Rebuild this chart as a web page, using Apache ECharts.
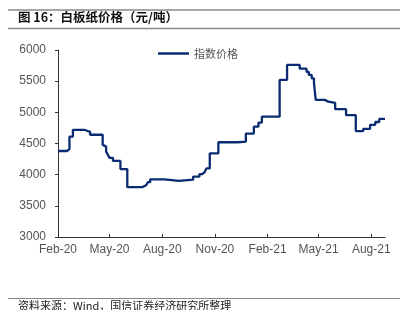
<!DOCTYPE html>
<html>
<head>
<meta charset="utf-8">
<script src="https://cdn.jsdelivr.net/npm/echarts@6/dist/echarts.min.js"></script>
<style>html,body{margin:0;padding:0;background:#fff}#c{width:405px;height:310px}</style>
</head>
<body>
<div id="c"></div>
<script>
// change-point dates and the index price that holds from each date on
const dates = [
  '2020-02-01','2020-02-17','2020-02-21','2020-02-27','2020-03-18','2020-03-24','2020-03-28',
  '2020-04-19','2020-04-22','2020-04-25','2020-04-28','2020-05-01','2020-05-07','2020-05-20',
  '2020-06-01','2020-06-27','2020-07-04','2020-07-07','2020-07-11','2020-08-05','2020-08-30',
  '2020-09-24','2020-10-05','2020-10-10','2020-10-14','2020-10-17','2020-10-23','2020-11-07',
  '2020-12-11','2020-12-25','2021-01-08','2021-01-16','2021-01-22','2021-02-22','2021-03-07',
  '2021-03-29','2021-04-10','2021-04-14','2021-04-19','2021-04-23','2021-04-26','2021-05-12',
  '2021-05-18','2021-05-30','2021-06-18','2021-07-05','2021-07-18','2021-07-30','2021-08-08',
  '2021-08-15','2021-08-25'
];
const prices = [
  4380,4410,4610,4720,4700,4690,4640,
  4480,4450,4370,4320,4270,4220,4090,
  3800,3830,3860,3880,3925,3900,3920,
  3970,4010,4040,4070,4100,4340,4520,
  4530,4660,4770,4835,4930,5520,5760,
  5700,5650,5600,5545,5470,5200,5170,
  5150,5050,4955,4700,4735,4800,4845,
  4895,4895
];
const seriesName = '指数价格';
const tickDates = ['2020-02-01','2020-05-01','2020-08-01','2020-11-01','2021-02-01','2021-05-01','2021-08-01'];
const yTicks = [3000,3500,4000,4500,5000,5500,6000];
const startDate = '2020-02-01', endDate = '2021-08-25';

const months = ['Jan','Feb','Mar','Apr','May','Jun','Jul','Aug','Sep','Oct','Nov','Dec'];
const DAY = 86400000;
const ts = s => { const p = s.split('-').map(Number); return Date.UTC(p[0], p[1]-1, p[2]); };
const dayOf = s => Math.round((ts(s) - ts(startDate)) / DAY);
const tickDays = tickDates.map(dayOf);
const data = dates.map((d,i)=>[dayOf(d), prices[i]]);
const fmt = v => { const d = new Date(ts(startDate) + v*DAY); return months[d.getUTCMonth()]+'-'+String(d.getUTCFullYear()).slice(2); };

const chart = echarts.init(document.getElementById('c'), null, {renderer:'canvas'});
chart.setOption({
  animation:false,
  grid:{left:58,right:20,top:50,bottom:73},
  title:{text:'图 16：白板纸价格（元/吨）',left:18,top:11,padding:0,
    textStyle:{fontSize:12.5,fontWeight:'bold',color:'#111',fontFamily:'"Noto Sans CJK SC", sans-serif'}},
  legend:{data:[{name:seriesName,icon:'rect'}],left:158,top:48,padding:0,itemWidth:31,itemHeight:2.5,itemGap:4,
    textStyle:{fontSize:11,color:'#555',fontFamily:'"Noto Sans CJK SC", serif'}},
  xAxis:{type:'value',min:0,max:dayOf(endDate),
    axisLine:{lineStyle:{color:'#333',width:1}},
    axisTick:{show:true,inside:true,length:3,customValues:tickDays,lineStyle:{color:'#333'}},
    axisLabel:{customValues:tickDays,color:'#555',fontSize:12,margin:7,fontFamily:'"Liberation Sans", Arial, sans-serif',
      hideOverlap:false,formatter:fmt},
    splitLine:{show:false}},
  yAxis:{type:'value',min:yTicks[0],max:yTicks[yTicks.length-1],interval:500,
    axisLine:{show:true,lineStyle:{color:'#333',width:1}},
    axisTick:{show:true,length:3,lineStyle:{color:'#333'}},
    axisLabel:{color:'#555',fontSize:12,margin:12,fontFamily:'"Liberation Sans", Arial, sans-serif',
      formatter:v=>String(v)},
    splitLine:{show:false}},
  series:[{name:seriesName,type:'line',step:'end',data:data,showSymbol:false,symbol:'none',
    lineStyle:{color:'#0a2b72',width:2.3},itemStyle:{color:'#0a2b72'}}],
  graphic:[
    {type:'line',shape:{x1:8,y1:10,x2:400,y2:10},style:{stroke:'#888',lineWidth:1.5}},
    {type:'line',shape:{x1:8,y1:28.5,x2:400,y2:28.5},style:{stroke:'#888',lineWidth:1.5}},
    {type:'line',shape:{x1:8,y1:298.5,x2:400,y2:298.5},style:{stroke:'#888',lineWidth:1}},
    {type:'text',left:18,top:300,style:{text:'资料来源：Wind，国信证券经济研究所整理',fontSize:11,fill:'#222',
      fontFamily:'"Noto Sans CJK SC", sans-serif'}}
  ]
});
</script>
</body>
</html>
